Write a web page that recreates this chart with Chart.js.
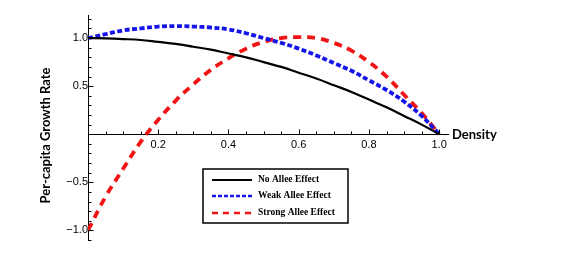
<!DOCTYPE html>
<html lang="en">
<head>
    <meta charset="UTF-8">
    <title>Per-capita Growth Rate vs Density</title>
    <script src="https://cdn.jsdelivr.net/npm/chart.js"></script>
    <style>
        html, body { margin: 0; padding: 0; background: #fff; }
        .wrap { width: 564px; height: 263px; }
    </style>
</head>
<body>
    <div class="wrap"><canvas id="growthChart" width="564" height="263"></canvas></div>

    <script>
        // values
        const density = [0, 0.05, 0.1, 0.15, 0.2, 0.25, 0.3, 0.35, 0.4, 0.45, 0.5,
                         0.55, 0.6, 0.65, 0.7, 0.75, 0.8, 0.85, 0.9, 0.95, 1.0];
        const noAllee = [1.0, 0.997, 0.99, 0.98, 0.96, 0.94, 0.91, 0.88, 0.84, 0.80, 0.75,
                         0.70, 0.64, 0.58, 0.51, 0.44, 0.36, 0.28, 0.19, 0.10, 0.0];
        const weakAllee = [1.0, 1.04, 1.08, 1.10, 1.12, 1.125, 1.12, 1.11, 1.09, 1.05, 1.0,
                           0.95, 0.89, 0.82, 0.74, 0.66, 0.56, 0.46, 0.34, 0.19, 0.0];
        const strongAllee = [-1.0, -0.65, -0.36, -0.08, 0.15, 0.35, 0.52, 0.67, 0.79, 0.89, 0.96,
                             1.0, 1.01, 1.0, 0.95, 0.87, 0.75, 0.60, 0.41, 0.22, 0.0];
        const seriesNames = ["No Allee Effect", "Weak Allee Effect", "Strong Allee Effect"];
        const xTickValues = [0.2, 0.4, 0.6, 0.8, 1.0];
        const yTickValues = [-1.0, -0.5, 0.5, 1.0];

        function toPoints(ys) {
            return density.map((d, i) => ({ x: d, y: ys[i] }));
        }

        function fmt(v) {
            const s = Math.abs(v).toFixed(1);
            return v < 0 ? "\u2212" + s : s;
        }

        // small inside ticks, axis titles and the boxed legend
        const decorPlugin = {
            id: "decor",
            afterDraw(chart) {
                const ctx = chart.ctx;
                const xs = chart.scales.x, ys = chart.scales.y;
                const x0 = Math.round(xs.getPixelForValue(0)) + 0.5;
                const y0 = Math.round(ys.getPixelForValue(0)) + 0.5;
                ctx.save();
                ctx.strokeStyle = "#000";
                ctx.lineWidth = 1;
                ctx.beginPath();
                for (let i = 1; i <= 20; i++) {
                    const px = Math.round(xs.getPixelForValue(i * 0.05)) + 0.5;
                    const len = i % 4 === 0 ? 5 : 3;
                    ctx.moveTo(px, y0);
                    ctx.lineTo(px, y0 - len);
                }
                for (let i = -11; i <= 12; i++) {
                    if (i === 0) continue;
                    const py = Math.round(ys.getPixelForValue(i / 10)) + 0.5;
                    const len = i % 5 === 0 ? 5 : 3;
                    ctx.moveTo(x0, py);
                    ctx.lineTo(x0 + len, py);
                }
                ctx.stroke();

                // axis titles
                ctx.fillStyle = "#000";
                ctx.font = "bold 13px Lato";
                ctx.textAlign = "left";
                ctx.textBaseline = "middle";
                ctx.fillText("Density", chart.chartArea.right + 4, y0);

                ctx.save();
                ctx.translate(46, (chart.chartArea.top + chart.chartArea.bottom) / 2 + 8);
                ctx.rotate(-Math.PI / 2);
                ctx.font = "bold 13px Lato";
                ctx.textAlign = "center";
                ctx.fillText("Per-capita Growth Rate", 0, 0);
                ctx.restore();

                // legend box
                const bx = 203, by = 169, bw = 145, bh = 54;
                ctx.fillStyle = "#fff";
                ctx.fillRect(bx, by, bw, bh);
                ctx.lineWidth = 1.5;
                ctx.strokeStyle = "#000";
                ctx.strokeRect(bx, by, bw, bh);
                const rows = [180, 196, 213];
                const dashes = [[], [4, 2], [6, 5]];
                chart.data.datasets.forEach((ds, i) => {
                    ctx.beginPath();
                    ctx.setLineDash(dashes[i]);
                    ctx.strokeStyle = ds.borderColor;
                    ctx.lineWidth = i === 0 ? 2 : 2.5;
                    ctx.moveTo(bx + 9, rows[i]);
                    ctx.lineTo(bx + 49, rows[i]);
                    ctx.stroke();
                    ctx.setLineDash([]);
                    ctx.fillStyle = "#000";
                    ctx.font = "bold 9.5px 'Liberation Serif'";
                    ctx.textAlign = "left";
                    ctx.textBaseline = "middle";
                    ctx.fillText(ds.label, bx + 55, rows[i]);
                });
                ctx.restore();
            }
        };

        const ctx = document.getElementById("growthChart").getContext("2d");
        new Chart(ctx, {
            type: "line",
            data: {
                datasets: [
                    {
                        label: seriesNames[0],
                        data: toPoints(noAllee),
                        borderColor: "#000000",
                        borderWidth: 2.2,
                        pointRadius: 0,
                        tension: 0.4,
                        fill: false
                    },
                    {
                        label: seriesNames[1],
                        data: toPoints(weakAllee),
                        borderColor: "rgb(20, 20, 235)",
                        borderWidth: 3.8,
                        borderDash: [5, 2.5],
                        pointRadius: 0,
                        tension: 0.4,
                        fill: false
                    },
                    {
                        label: seriesNames[2],
                        data: toPoints(strongAllee),
                        borderColor: "rgb(240, 20, 20)",
                        borderWidth: 3.8,
                        borderDash: [8, 6],
                        pointRadius: 0,
                        tension: 0.4,
                        fill: false
                    }
                ]
            },
            options: {
                responsive: false,
                animation: false,
                layout: { padding: { left: 88, right: 116, top: 15, bottom: 23 } },
                plugins: {
                    legend: { display: false },
                    tooltip: { enabled: false }
                },
                scales: {
                    x: {
                        type: "linear",
                        min: 0,
                        max: 1.025,
                        position: { y: 0 },
                        afterBuildTicks: s => { s.ticks = xTickValues.map(v => ({ value: v })); },
                        grid: { display: false, drawTicks: false },
                        border: { display: true, color: "#000", width: 1 },
                        ticks: {
                            color: "#000",
                            font: { family: "'Liberation Sans'", size: 11 },
                            padding: 4,
                            maxRotation: 0,
                            callback: v => fmt(v)
                        }
                    },
                    y: {
                        type: "linear",
                        min: -1.1,
                        max: 1.24,
                        position: { x: 0 },
                        afterBuildTicks: s => { s.ticks = yTickValues.map(v => ({ value: v })); },
                        grid: { display: false, drawTicks: false },
                        border: { display: true, color: "#000", width: 1 },
                        ticks: {
                            color: "#000",
                            font: { family: "'Liberation Sans'", size: 11 },
                            padding: 6,
                            callback: v => fmt(v)
                        }
                    }
                }
            },
            plugins: [decorPlugin]
        });
    </script>
</body>
</html>
